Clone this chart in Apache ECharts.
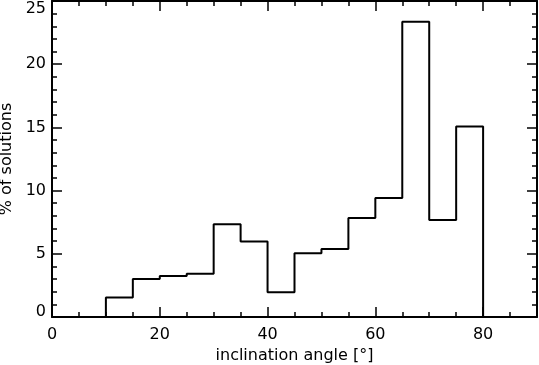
<!DOCTYPE html>
<html>
<head>
<meta charset="utf-8">
<script src="https://cdn.jsdelivr.net/npm/echarts@6/dist/echarts.min.js"></script>
<style>
  html, body { margin: 0; padding: 0; background: #fff; }
  #main { width: 539px; height: 365px; }
</style>
</head>
<body>
<div id="main"></div>
<script>
// bin left edges (deg) and the percentage in each bin
var binEdges = [0, 5, 10, 15, 20, 25, 30, 35, 40, 45, 50, 55, 60, 65, 70, 75, 80, 85, 90]
var percents = [0, 0, 1.55, 3.0, 3.25, 3.42, 7.34, 5.97, 1.95, 5.05, 5.38, 7.84, 9.42, 23.35, 7.68, 15.08, 0, 0]
var xTicks = [0, 20, 40, 60, 80]
var yTicks = [0, 5, 10, 15, 20, 25]

var points = []
for (var i = 0; i < percents.length; i++) {
  points.push([binEdges[i], percents[i]])
}
// closing point at the right edge of the last bin
points.push([binEdges[binEdges.length - 1], percents[percents.length - 1]])

var font = 'DejaVu Sans'
var axisLine = { show: true, onZero: false, lineStyle: { color: '#000', width: 2 } }
var ticks = { show: true, inside: true, length: 10, lineStyle: { color: '#000', width: 1.5 } }
var minor = { show: true, length: 5, lineStyle: { color: '#000', width: 1.5 } }

var myChart = echarts.init(document.getElementById('main'))
myChart.setOption({
  animation: false,
  backgroundColor: '#fff',
  grid: { left: 52, right: 2, top: 1, bottom: 48, containLabel: false, outerBoundsMode: 'none' },
  xAxis: [
    {
      type: 'value',
      position: 'bottom',
      min: 0,
      max: 90,
      interval: 20,
      name: 'inclination angle [°]',
      nameLocation: 'middle',
      nameGap: 31,
      nameTextStyle: { color: '#000', fontFamily: font, fontSize: 16 },
      axisLine: axisLine,
      axisTick: ticks,
      minorTick: Object.assign({ splitNumber: 4 }, minor),
      splitLine: { show: false },
      axisLabel: {
        color: '#000', fontFamily: font, fontSize: 16, margin: 10,
        customValues: xTicks
      }
    },
    {
      type: 'value',
      position: 'top',
      min: 0,
      max: 90,
      interval: 20,
      axisLine: axisLine,
      axisTick: ticks,
      minorTick: Object.assign({ splitNumber: 4 }, minor),
      splitLine: { show: false },
      axisLabel: { show: false }
    }
  ],
  yAxis: [
    {
      type: 'value',
      position: 'left',
      min: 0,
      max: 25,
      interval: 5,
      name: '% of solutions',
      nameLocation: 'middle',
      nameGap: 34,
      nameTextStyle: { color: '#000', fontFamily: font, fontSize: 16 },
      axisLine: axisLine,
      axisTick: ticks,
      minorTick: Object.assign({ splitNumber: 5 }, minor),
      splitLine: { show: false },
      axisLabel: {
        color: '#000', fontFamily: font, fontSize: 16, margin: 6,
        customValues: yTicks,
        // end labels are pushed inside the frame, like the original
        formatter: function (v) {
          if (v === yTicks[yTicks.length - 1]) return '{top|' + v + '}'
          if (v === yTicks[0]) return '{bot|' + v + '}'
          return String(v)
        },
        rich: {
          top: { fontFamily: font, fontSize: 16, color: '#000', padding: [16, 0, 0, 0] },
          bot: { fontFamily: font, fontSize: 16, color: '#000', padding: [0, 0, 10, 0] }
        }
      }
    },
    {
      type: 'value',
      position: 'right',
      min: 0,
      max: 25,
      interval: 5,
      axisLine: axisLine,
      axisTick: ticks,
      minorTick: Object.assign({ splitNumber: 5 }, minor),
      splitLine: { show: false },
      axisLabel: { show: false }
    }
  ],
  series: [
    {
      type: 'line',
      step: 'end',
      data: points,
      symbol: 'none',
      lineStyle: { color: '#000', width: 2 }
    },
    {
      // empty series so the mirrored top/right axes are drawn
      type: 'line',
      xAxisIndex: 1,
      yAxisIndex: 1,
      data: [],
      symbol: 'none'
    }
  ]
})
</script>
</body>
</html>
